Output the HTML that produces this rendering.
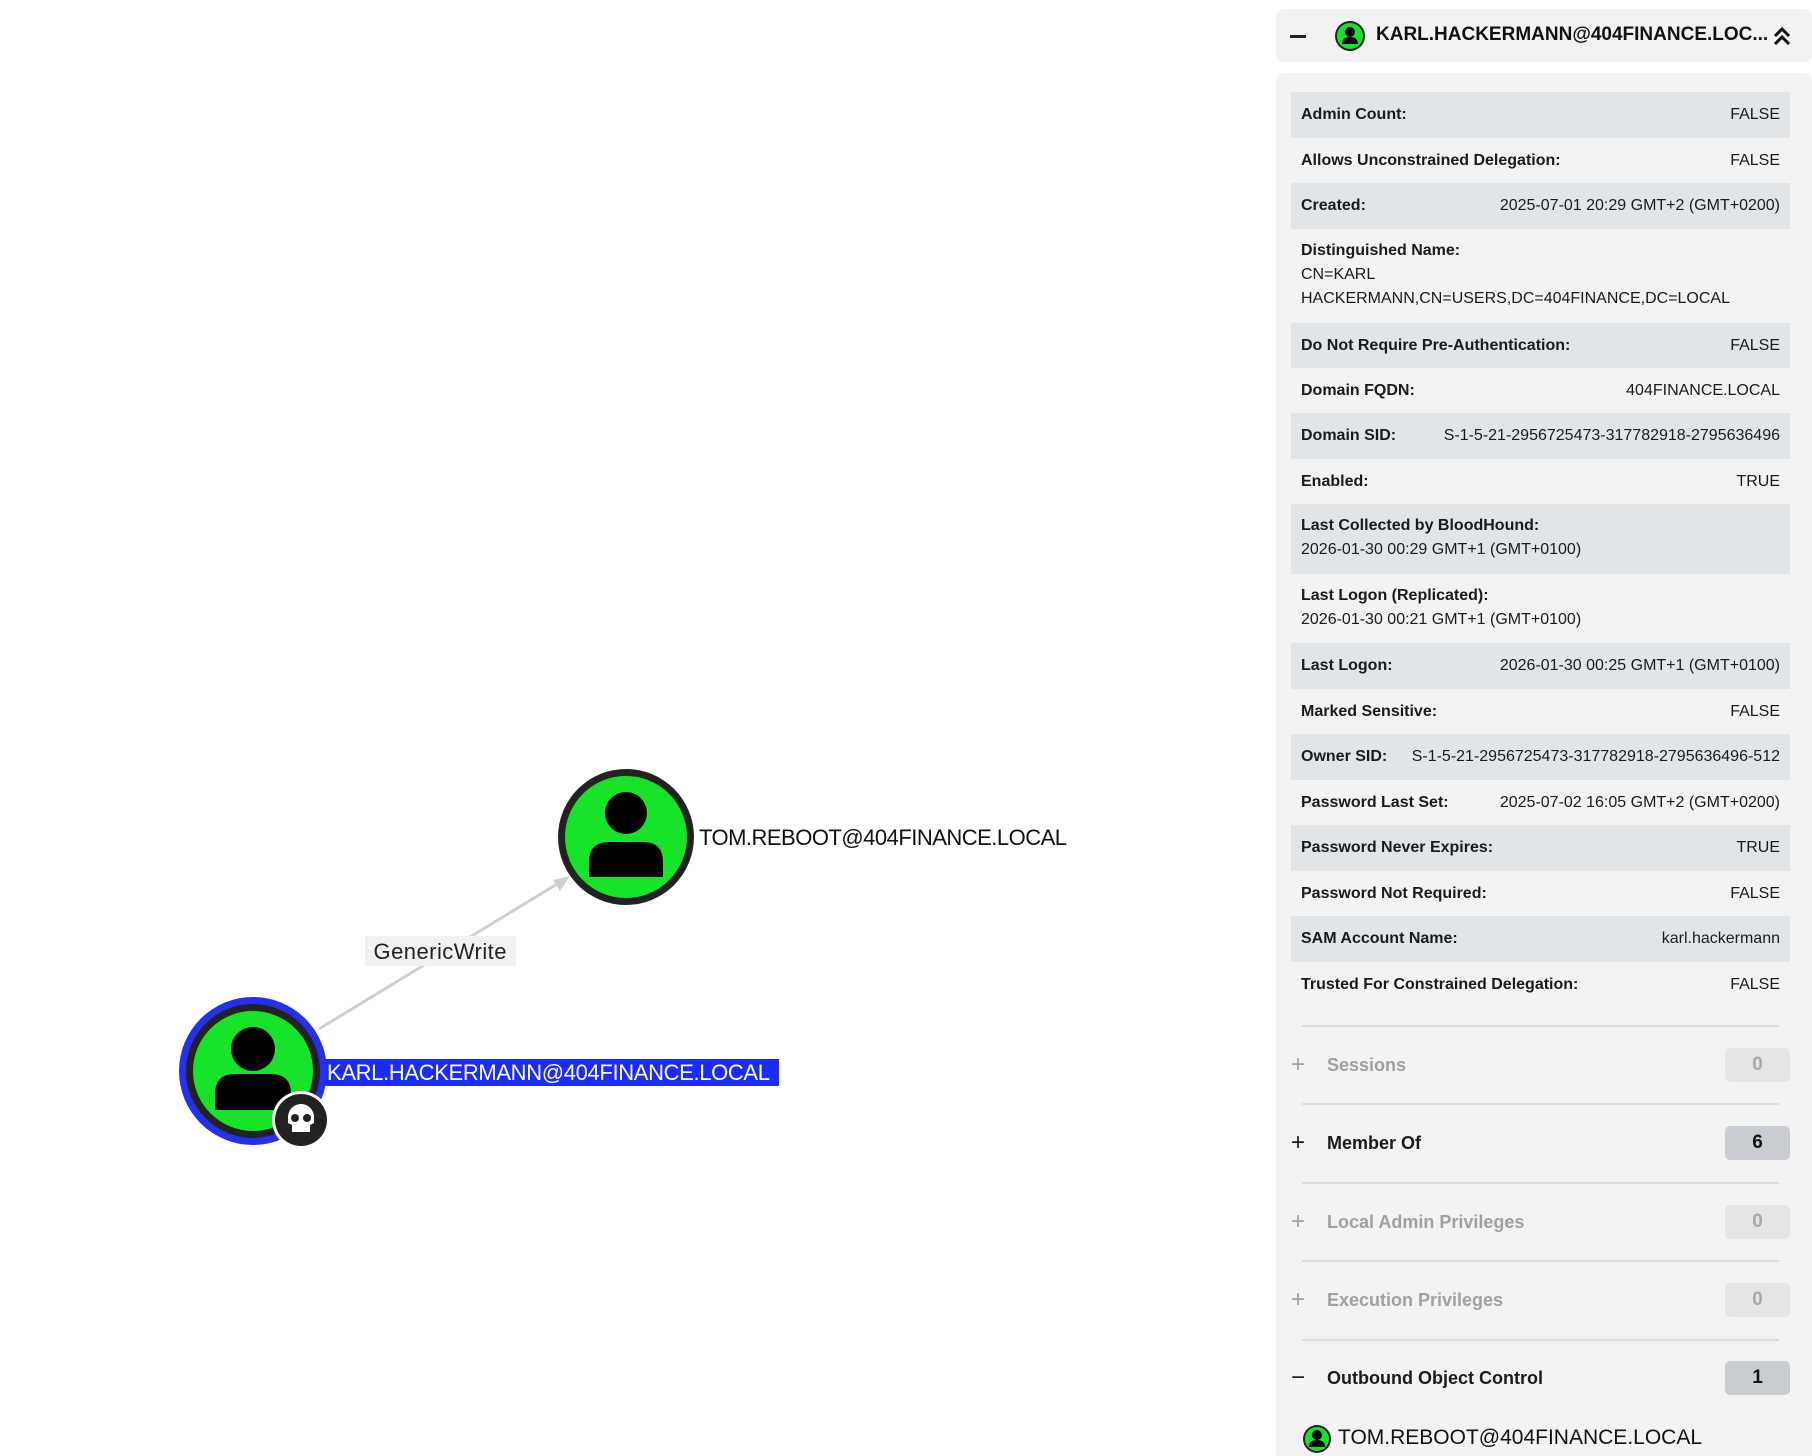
<!DOCTYPE html>
<html><head><meta charset="utf-8"><style>
*{margin:0;padding:0;box-sizing:border-box}
body{width:1812px;height:1456px;background:#fff;position:relative;overflow:hidden;font-family:"Liberation Sans",sans-serif;color:#1a1a1a}
.abs{position:absolute}
.hdr{left:1276px;top:9px;width:536px;height:53px;background:#f2f2f2;border-radius:8px}
.body{left:1276px;top:73px;width:536px;height:1383px;background:#f3f3f3;border-radius:8px 8px 0 0;overflow:hidden}
.row{position:absolute;left:15px;width:499px;font-size:16px;padding:0 10px;display:flex;justify-content:space-between;align-items:center;white-space:nowrap}
.row.g{background:#e2e5e8}
.row b{font-weight:bold}
.row.two{display:block;padding-top:10px;line-height:24px}
.line{position:absolute;left:26px;width:477px;height:2px;background:#dcdcdc}
.sec{position:absolute;left:15px;width:499px;height:36px;display:flex;align-items:center;font-size:18px;font-weight:bold}
.sec .p{width:36px;font-size:24px;font-weight:normal}
.sec .bd{margin-left:auto;width:65px;height:34px;border-radius:5px;display:flex;align-items:center;justify-content:center;font-size:19px}
.dim{color:#a0a0a0}.dim .bd{background:#e5e5e5;color:#a8a8a8}
.act .bd{background:#c9cdd1;color:#111}
</style></head><body>
<svg class="abs" style="left:0;top:0" width="1270" height="1456">
<line x1="319" y1="1029" x2="562" y2="881" stroke="#d0d0d0" stroke-width="3"/>
<polygon points="570,876 553,880 560,891" fill="#d0d0d0"/>
<rect x="365" y="936" width="151" height="30" fill="#f2f2f2"/>
<text x="440" y="959" font-size="22" text-anchor="middle" font-family="Liberation Sans" fill="#222" textLength="133">GenericWrite</text>
<circle cx="626" cy="837" r="68" fill="#222"/>
<circle cx="626" cy="837" r="61" fill="#17e429"/>
<circle cx="626" cy="813" r="21" fill="#000"/>
<path d="M589,877 L589,862 Q589,842 609,842 L643,842 Q663,842 663,862 L663,877 Z" fill="#000"/>
<text x="699" y="845" font-size="22" font-family="Liberation Sans" fill="#111" textLength="368">TOM.REBOOT@404FINANCE.LOCAL</text>
<rect x="325" y="1059" width="454" height="27" fill="#1b2bff"/>
<text x="327" y="1080" font-size="22" font-family="Liberation Sans" fill="#fff" textLength="443">KARL.HACKERMANN@404FINANCE.LOCAL</text>
<circle cx="253" cy="1071" r="74" fill="#2430f0"/>
<circle cx="253" cy="1071" r="67" fill="#222"/>
<circle cx="253" cy="1071" r="60" fill="#17e429"/>
<circle cx="253" cy="1049" r="22" fill="#000"/>
<path d="M215,1110 L215,1094 Q215,1074 235,1074 L271,1074 Q291,1074 291,1094 L291,1110 Z" fill="#000"/>
<circle cx="301" cy="1120" r="29" fill="#fff"/>
<circle cx="301" cy="1120" r="26" fill="#222"/>
<path d="M288,1117 a13,13 0 1 1 26,0 l0,6 l-4,2 l0,7 l-18,0 l0,-7 l-4,-2 Z" fill="#fff"/>
<circle cx="295" cy="1118" r="4" fill="#222"/><circle cx="307" cy="1118" r="4" fill="#222"/>
</svg>

<div class="abs hdr">
 <div class="abs" style="left:14px;top:26px;width:16px;height:3px;background:#222"></div>
 <svg class="abs" style="left:58px;top:11px" width="32" height="32"><circle cx="16" cy="16" r="15" fill="#222"/><circle cx="16" cy="16" r="13" fill="#17e429"/><circle cx="16" cy="12" r="5" fill="#000"/><path d="M8,24 Q8,17 16,17 Q24,17 24,24Z" fill="#000"/></svg>
 <div class="abs" style="left:100px;top:15px;font-size:19px;font-weight:bold;color:#111">KARL.HACKERMANN@404FINANCE.LOC...</div>
 <svg class="abs" style="left:497px;top:17px" width="18" height="22"><path d="M2,10 L9,3 L16,10 M2,18 L9,11 L16,18" stroke="#111" stroke-width="3" fill="none"/></svg>
</div>

<div class="abs body">
 <div class="row" style="top:-24px;height:30px"><b>ACL Inheritance Denied:</b><span>FALSE</span></div>
 <div class="row g" style="top:19px;height:46px"><b>Admin Count:</b><span>FALSE</span></div>
 <div class="row" style="top:65px;height:45px"><b>Allows Unconstrained Delegation:</b><span>FALSE</span></div>
 <div class="row g" style="top:110px;height:46px"><b>Created:</b><span>2025-07-01 20:29 GMT+2 (GMT+0200)</span></div>
 <div class="row two" style="top:156px;height:94px"><b>Distinguished Name:</b><br>CN=KARL<br>HACKERMANN,CN=USERS,DC=404FINANCE,DC=LOCAL</div>
 <div class="row g" style="top:250px;height:45px"><b>Do Not Require Pre-Authentication:</b><span>FALSE</span></div>
 <div class="row" style="top:295px;height:45px"><b>Domain FQDN:</b><span>404FINANCE.LOCAL</span></div>
 <div class="row g" style="top:340px;height:46px"><b>Domain SID:</b><span>S-1-5-21-2956725473-317782918-2795636496</span></div>
 <div class="row" style="top:386px;height:45px"><b>Enabled:</b><span>TRUE</span></div>
 <div class="row g two" style="top:431px;height:70px"><b>Last Collected by BloodHound:</b><br>2026-01-30 00:29 GMT+1 (GMT+0100)</div>
 <div class="row two" style="top:501px;height:69px"><b>Last Logon (Replicated):</b><br>2026-01-30 00:21 GMT+1 (GMT+0100)</div>
 <div class="row g" style="top:570px;height:46px"><b>Last Logon:</b><span>2026-01-30 00:25 GMT+1 (GMT+0100)</span></div>
 <div class="row" style="top:616px;height:45px"><b>Marked Sensitive:</b><span>FALSE</span></div>
 <div class="row g" style="top:661px;height:46px"><b>Owner SID:</b><span>S-1-5-21-2956725473-317782918-2795636496-512</span></div>
 <div class="row" style="top:707px;height:45px"><b>Password Last Set:</b><span>2025-07-02 16:05 GMT+2 (GMT+0200)</span></div>
 <div class="row g" style="top:752px;height:46px"><b>Password Never Expires:</b><span>TRUE</span></div>
 <div class="row" style="top:798px;height:45px"><b>Password Not Required:</b><span>FALSE</span></div>
 <div class="row g" style="top:843px;height:46px"><b>SAM Account Name:</b><span>karl.hackermann</span></div>
 <div class="row" style="top:889px;height:46px"><b>Trusted For Constrained Delegation:</b><span>FALSE</span></div>
 <div class="line" style="top:952px"></div>
 <div class="sec dim" style="top:974px"><span class="p">+</span>Sessions<span class="bd">0</span></div>
 <div class="line" style="top:1030px"></div>
 <div class="sec act" style="top:1052px"><span class="p">+</span>Member Of<span class="bd">6</span></div>
 <div class="line" style="top:1109px"></div>
 <div class="sec dim" style="top:1131px"><span class="p">+</span>Local Admin Privileges<span class="bd">0</span></div>
 <div class="line" style="top:1187px"></div>
 <div class="sec dim" style="top:1209px"><span class="p">+</span>Execution Privileges<span class="bd">0</span></div>
 <div class="line" style="top:1266px"></div>
 <div class="sec act" style="top:1287px"><span class="p">−</span>Outbound Object Control<span class="bd">1</span></div>
 <svg class="abs" style="left:26px;top:1351px" width="30" height="30"><circle cx="15" cy="15" r="14" fill="#222"/><circle cx="15" cy="15" r="12" fill="#17e429"/><circle cx="15" cy="11" r="5" fill="#000"/><path d="M7,23 Q7,16 15,16 Q23,16 23,23Z" fill="#000"/></svg>
 <div class="abs" style="left:62px;top:1353px;font-size:21px;color:#111">TOM.REBOOT@404FINANCE.LOCAL</div>
</div>
</body></html>
